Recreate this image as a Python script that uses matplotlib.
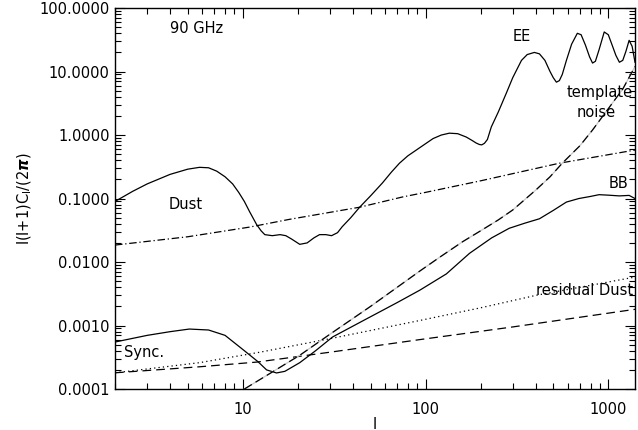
import numpy as np
import matplotlib
matplotlib.use("Agg")
import matplotlib.pyplot as plt
from matplotlib.ticker import LogLocator, FixedLocator, FormatStrFormatter, NullFormatter

# EE spectrum (solid)
ee_l = [2, 2.5, 3, 4, 5, 5.8, 6.5, 7.2, 8, 8.8, 9.5, 10.2, 10.9, 11.9, 12.6, 13.2, 14.5, 16, 17.2, 18.5,
        20.5, 22.5, 24.5, 26.3, 28.5, 30.6, 33, 35, 39, 43.6, 50, 58, 65, 72, 80, 89, 100, 110, 122, 135,
        150, 167, 180, 189, 197, 203, 210, 218, 229, 250, 277, 300, 335, 360, 394, 420, 450, 480, 500,
        520, 540, 560, 590, 630, 677, 710, 750, 790, 820, 850, 890, 950, 1000, 1050, 1100, 1150, 1200,
        1250, 1300, 1350, 1400]
ee_y = [0.09, 0.13, 0.17, 0.24, 0.29, 0.31, 0.305, 0.27, 0.22, 0.17, 0.125, 0.09, 0.062, 0.039, 0.031,
        0.027, 0.026, 0.027, 0.026, 0.023, 0.019, 0.020, 0.024, 0.027, 0.027, 0.026, 0.029, 0.036, 0.05,
        0.073, 0.11, 0.175, 0.26, 0.36, 0.47, 0.58, 0.73, 0.88, 1.0, 1.07, 1.05, 0.93, 0.82, 0.75, 0.71,
        0.70, 0.74, 0.85, 1.34, 2.3, 4.6, 8.0, 15.0, 18.5, 20.0, 19.0, 15.0, 10.0, 8.0, 6.8, 7.2, 9.0,
        15.0, 27.0, 40.0, 38.0, 26.0, 17.0, 13.6, 14.5, 22.0, 42.0, 38.0, 26.0, 18.0, 14.0, 15.0, 21.0,
        31.0, 25.0, 14.0]

# BB spectrum (solid)
bb_l = [2, 3, 4, 5.1, 6.5, 8, 10, 12.1, 13.5, 15.3, 17, 20.5, 25, 31, 45, 70, 93, 130, 174, 230, 287,
        350, 420, 500, 590, 690, 800, 890, 1000, 1150, 1300, 1400]
bb_y = [0.00055, 0.0007, 0.0008, 0.00088, 0.00085, 0.0007, 0.00042, 0.00027, 0.0002, 0.000179, 0.00019,
        0.00026, 0.0004, 0.00066, 0.00117, 0.0023, 0.0036, 0.0065, 0.0137, 0.024, 0.034, 0.041, 0.048,
        0.065, 0.088, 0.1, 0.108, 0.115, 0.113, 0.11, 0.112, 0.1]

# Dust foreground (dash-dot)
dust_l = [2, 5, 10.9, 18, 43.6, 75, 100, 200, 540, 1400]
dust_y = [0.0185, 0.025, 0.0355, 0.047, 0.073, 0.106, 0.125, 0.19, 0.36, 0.58]

# residual Dust (dotted)
rdust_l = [2, 5.8, 12.4, 30, 93, 200, 405, 800, 1400]
rdust_y = [0.00018, 0.00026, 0.00038, 0.00062, 0.0012, 0.0019, 0.003, 0.0043, 0.0058]

# residual Sync. (dashed)
rsync_l = [2, 5.8, 12, 30, 93, 300, 1400]
rsync_y = [0.00018, 0.000224, 0.000266, 0.00038, 0.0006, 0.00095, 0.0018]

# template noise (dashed over grey)
noise_l = [10.2, 14, 20.5, 30, 50, 93, 119, 160, 200, 250, 300, 400, 480, 560, 700, 820, 1000, 1200, 1400]
noise_y = [0.0001, 0.000174, 0.00034, 0.00073, 0.002, 0.0072, 0.0118, 0.021, 0.031, 0.046, 0.066, 0.135,
           0.22, 0.36, 0.68, 1.2, 2.6, 5.3, 12.0]

y_ticks = [1e-4, 1e-3, 1e-2, 1e-1, 1, 10, 100]
x_ticks = [10, 100, 1000]

plt.rcParams['font.family'] = ['DejaVu Sans']
fig = plt.figure(figsize=(6.38, 4.30), dpi=100)
ax = fig.add_axes([0.1803, 0.0953, 0.815, 0.886])

ax.plot(ee_l, ee_y, color="black", linewidth=0.9)
ax.plot(bb_l, bb_y, color="black", linewidth=0.9)
ax.plot(dust_l, dust_y, color="black", linewidth=0.9, dashes=(6, 2.2, 1, 2.2))
ax.plot(rdust_l, rdust_y, color="black", linewidth=0.9, dashes=(1, 2.5))
ax.plot(rsync_l, rsync_y, color="black", linewidth=0.9, dashes=(7, 4))
ax.plot(noise_l, noise_y, color="#c8c8c8", linewidth=0.9)
ax.plot(noise_l, noise_y, color="black", linewidth=0.9, dashes=(7, 3.5))

ax.set_xscale("log")
ax.set_yscale("log")
ax.set_xlim(2, 1400)
ax.set_ylim(1e-4, 100)

ax.xaxis.set_major_locator(FixedLocator(x_ticks))
ax.xaxis.set_minor_locator(LogLocator(base=10, subs=np.arange(2, 10)))
ax.xaxis.set_major_formatter(FormatStrFormatter("%d"))
ax.xaxis.set_minor_formatter(NullFormatter())
ax.yaxis.set_major_locator(FixedLocator(y_ticks))
ax.yaxis.set_minor_locator(LogLocator(base=10, subs=np.arange(2, 10)))
ax.yaxis.set_major_formatter(FormatStrFormatter("%.4f"))
ax.yaxis.set_minor_formatter(NullFormatter())

ax.tick_params(which="both", direction="in", top=True, right=True, labelsize=10.5, width=0.8)
ax.tick_params(which="major", length=7)
ax.tick_params(which="minor", length=4)
ax.tick_params(axis="x", pad=9)
ax.tick_params(axis="y", pad=4)
for s in ax.spines.values():
    s.set_linewidth(1.0)

ax.set_xlabel("l", fontsize=10.5, labelpad=0)
ax.set_ylabel(r"l(l+1)C$_\mathregular{l}$/(2$\boldsymbol{\pi}$)", fontsize=10.5)

fs = 10.5
ax.text(4.0, 48, "90 GHz", fontsize=fs, ha="left", va="center")
ax.text(335, 35, "EE", fontsize=fs, ha="center", va="center")
ax.text(893, 4.6, "template", fontsize=fs, ha="center", va="center")
ax.text(860, 2.3, "noise", fontsize=fs, ha="center", va="center")
ax.text(1135, 0.175, "BB", fontsize=fs, ha="center", va="center")
ax.text(4.9, 0.082, "Dust", fontsize=fs, ha="center", va="center")
ax.text(2.9, 0.00037, "Sync.", fontsize=fs, ha="center", va="center")
ax.text(740, 0.0035, "residual Dust", fontsize=fs, ha="center", va="center")

fig.savefig("out.png", dpi=100)
